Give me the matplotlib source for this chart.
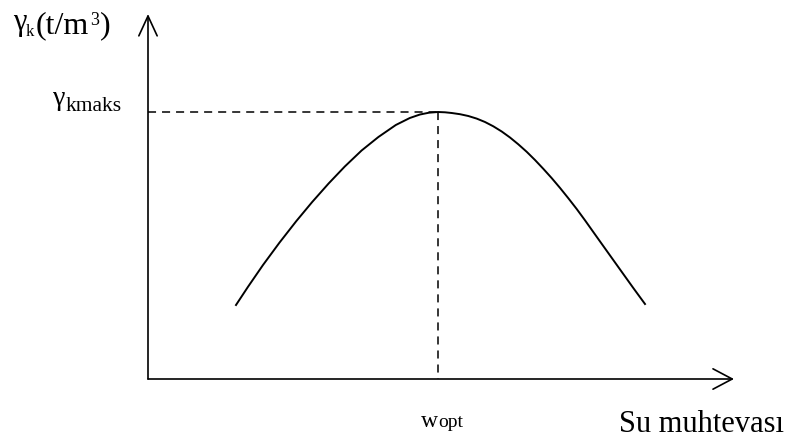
import numpy as np
import matplotlib.pyplot as plt

plt.rcParams['font.family'] = ['Liberation Serif', 'DejaVu Serif']
plt.rcParams['lines.scale_dashes'] = False

# schematic compaction curve (arbitrary units)
su = [8.80, 10.00, 11.50, 13.15, 14.83, 16.41, 18.06, 19.68, 21.36, 23.04,
      24.78, 26.18, 27.20, 28.10, 29.00,
      29.70, 30.37, 31.20, 32.03, 32.87, 33.70, 34.53, 35.37, 36.20, 37.03,
      37.87, 38.70, 39.53, 40.37, 41.20, 42.03, 42.87, 43.70, 44.53, 45.37,
      46.37, 47.37, 48.53, 49.70]
gamma_k = [7.40, 9.22, 11.40, 13.64, 15.79, 17.69, 19.55, 21.25, 22.85, 24.20,
           25.40, 26.10, 26.45, 26.63, 26.70,
           26.67, 26.60, 26.48, 26.30, 26.04, 25.70, 25.27, 24.75, 24.15, 23.47,
           22.72, 21.90, 21.02, 20.09, 19.11, 18.08, 17.00, 15.87, 14.70, 13.52,
           12.12, 10.72, 9.10, 7.50]

x_axis_end = 58.6
y_axis_end = 36.5

su = np.array(su)
gamma_k = np.array(gamma_k)
i_max = np.argmax(gamma_k)
w_opt = su[i_max]
g_max = gamma_k[i_max]

fig = plt.figure(figsize=(7.93, 4.39), dpi=100)
ax = fig.add_axes([0, 0, 1, 1])
ax.set_xlim(-14.8, 64.5)
ax.set_ylim(-5.9, 38.0)
ax.axis('off')

# egri
ax.plot(su, gamma_k, color='black', linewidth=1.4, solid_joinstyle='round')

# kesikli cizgiler
ax.plot([0, w_opt], [g_max, g_max], color='black', linewidth=1.1,
        dashes=(5.8, 4.3))
ax.plot([w_opt, w_opt], [g_max, 0], color='black', linewidth=1.1,
        dashes=(5.8, 4.3))

# eksenler (oklu)
ax.annotate('', xy=(x_axis_end, 0), xytext=(0, 0),
            arrowprops=dict(arrowstyle='->,head_length=1.385,head_width=0.733',
                            color='black', linewidth=1.2, shrinkA=0, shrinkB=0,
                            mutation_scale=10))
ax.annotate('', xy=(0, y_axis_end), xytext=(0, 0),
            arrowprops=dict(arrowstyle='->,head_length=1.43,head_width=0.66',
                            color='black', linewidth=1.2, shrinkA=0, shrinkB=0,
                            mutation_scale=10))

# yazilar
ax.text(-13.5, 34.95, 'γ', fontsize=22, va='baseline', ha='left')
ax.text(-12.2, 34.4, 'k', fontsize=12, va='baseline', ha='left')
ax.text(-11.2, 34.65, '(t/m', fontsize=23, va='baseline', ha='left')
ax.text(-5.75, 35.5, '3', fontsize=13, va='baseline', ha='left')
ax.text(-4.8, 34.65, ')', fontsize=23, va='baseline', ha='left')

ax.text(-9.47, 27.45, 'γ', fontsize=20, va='baseline', ha='left')
ax.text(-8.2, 26.9, 'kmaks', fontsize=15.5, va='baseline', ha='left')

ax.text(27.3, -4.67, 'w', fontsize=17, va='baseline', ha='left')
ax.text(29.03, -4.73, 'opt', fontsize=14, va='baseline', ha='left')

ax.text(47.13, -5.17, 'Su muhtevası', fontsize=22, va='baseline', ha='left')

fig.savefig('out.png', dpi=100)
